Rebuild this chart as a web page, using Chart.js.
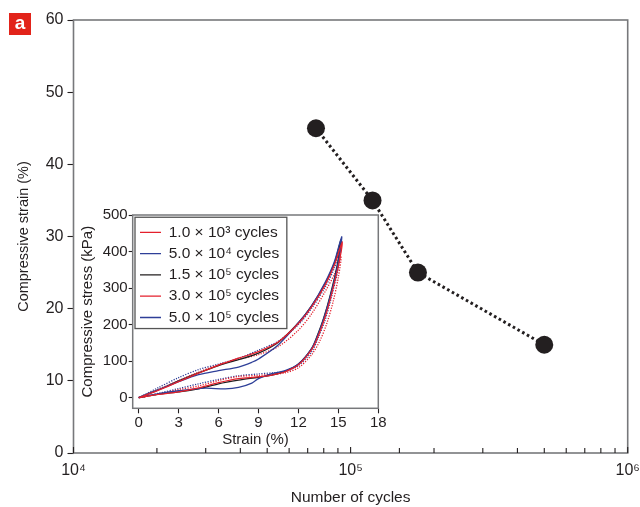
<!DOCTYPE html>
<html>
<head>
<meta charset="utf-8">
<script src="https://cdn.jsdelivr.net/npm/chart.js@4.4.1/dist/chart.umd.min.js"></script>
<style>
  html, body { margin: 0; padding: 0; background: #fff; }
  #wrap { position: relative; width: 640px; height: 507px; overflow: hidden; }
  #main { position: absolute; left: 0; top: 0; }
  #inset { position: absolute; left: 78px; top: 200px; }
  #tag { position: absolute; left: 9px; top: 13px; width: 22px; height: 22px; background: #e2231a;
         color: #fff; font: bold 19px 'Liberation Sans', Arial, sans-serif; text-align: center; line-height: 20px; }
</style>
</head>
<body>
<div id="wrap">
  <canvas id="main" width="640" height="507"></canvas>
  <canvas id="inset" width="312" height="255"></canvas>
  <div id="tag">a</div>
</div>
<script>
// main panel: strain vs number of cycles
var cycles = [7.5e4, 1.2e5, 1.75e5, 5e5];
var strainPct = [45, 35, 25, 15];
var strainTicks = [0, 10, 20, 30, 40, 50, 60];

// inset: stress-strain loops (loading branch then unloading branch)
var insetStrainTicks = [0, 3, 6, 9, 12, 15, 18];
var insetStressTicks = [0, 100, 200, 300, 400, 500];
var loopLabels = ['1.0 \u00d7 10\u00b3 cycles', '5.0 \u00d7 10\u2074 cycles', '1.5 \u00d7 10\u2075 cycles',
                  '3.0 \u00d7 10\u2075 cycles', '5.0 \u00d7 10\u2075 cycles'];

var loop1Strain = [0, 1.5, 3, 4.5, 6, 7.5, 9, 10.5, 12, 13, 14, 14.7, 15.3, 15.0, 14.5, 14.0, 13.5, 13.0, 12.0, 11.0, 10.0, 9.0, 7.5, 6.0, 4.5, 3.0, 1.5, 0];
var loop1Stress = [0, 21, 44, 67, 89, 108, 126, 153, 203, 249, 308, 363, 427, 360, 285, 220, 170, 132, 90, 71, 62, 57, 52, 41, 27, 16, 9, 0];

var loop2Strain = [0, 1.5, 3, 4.5, 6, 7.5, 8.5, 9, 10.5, 12, 13, 14, 14.7, 15.25, 15.0, 14.5, 14.0, 13.5, 13.0, 12.0, 11.0, 10.0, 9.0, 8.5, 7.5, 6.5, 5.0, 3.0, 1.5, 0];
var loop2Stress = [0, 22, 44, 63, 74, 84, 97, 106, 145, 205, 252, 315, 372, 441, 372, 292, 228, 175, 135, 92, 74, 66, 52, 40, 28, 24, 26, 19, 11, 0];

var loop3Strain = [0, 1.5, 3, 4.5, 6, 7.5, 9, 10.5, 12, 13, 14, 14.7, 15.2, 14.9, 14.4, 13.9, 13.4, 13.0, 12.0, 11.0, 10.0, 9.0, 7.5, 6.0, 4.5, 3.0, 1.5, 0];
var loop3Stress = [0, 22, 46, 68, 88, 104, 122, 152, 205, 252, 312, 368, 432, 360, 282, 218, 168, 135, 92, 72, 62, 56, 48, 38, 24, 16, 10, 0];

var loop4Strain = [0, 1.5, 3, 4.5, 6, 7.5, 9, 10.5, 12, 13, 14, 14.7, 15.2, 15.0, 14.6, 14.1, 13.6, 13.0, 12.0, 11.0, 10.0, 9.0, 7.5, 6.0, 4.5, 3.0, 1.5, 0];
var loop4Stress = [0, 23, 47, 70, 90, 105, 118, 140, 185, 230, 290, 338, 385, 330, 262, 200, 155, 118, 82, 68, 64, 61, 58, 47, 32, 22, 10, 0];

var loop5Strain = [0, 1.5, 3, 4.5, 6, 7.5, 9, 10.5, 12, 13, 14, 14.7, 15.2, 15.0, 14.5, 14.0, 13.5, 13.0, 12.0, 11.0, 10.0, 9.0, 7.5, 6.0, 4.5, 3.0, 1.5, 0];
var loop5Stress = [0, 28, 55, 77, 92, 108, 130, 155, 200, 245, 302, 355, 415, 355, 278, 212, 165, 126, 88, 72, 68, 65, 60, 50, 38, 25, 12, 0];

var RED = '#e4202c', BLUE = '#2e3f98', INK = '#231f20', AXIS = '#77787b';
var FONT = "'Liberation Sans', Arial, sans-serif";

Chart.defaults.font.family = FONT;
Chart.defaults.color = INK;

function pts(xs, ys) {
    var out = [];
    for (var i = 0; i < xs.length; i++) out.push({ x: xs[i], y: ys[i] });
    return out;
}

var SUP = '\u2070\u00b9\u00b2\u00b3\u2074\u2075\u2076\u2077\u2078\u2079';
function isDecade(v) {
    var l = Math.log10(v);
    return Math.abs(l - Math.round(l)) < 1e-9;
}
function decadeLabel(v) {
    if (!isDecade(v)) return '';
    var e = String(Math.round(Math.log10(v))), s = '';
    for (var i = 0; i < e.length; i++) s += SUP[+e[i]];
    return '10' + s;
}

// frame round the plot area, and inward ticks on the log axis
var mainFrame = {
    id: 'mainFrame',
    afterDraw: function(chart) {
        var ctx = chart.ctx, a = chart.chartArea, xs = chart.scales.x;
        ctx.save();
        ctx.strokeStyle = AXIS;
        ctx.lineWidth = 1.6;
        ctx.strokeRect(a.left, a.top, a.right - a.left, a.bottom - a.top);
        ctx.strokeStyle = INK;
        ctx.lineWidth = 1.1;
        ctx.beginPath();
        xs.ticks.forEach(function(t) {
            var px = xs.getPixelForValue(t.value);
            var len = isDecade(t.value) ? 6 : 5;
            ctx.moveTo(px, a.bottom);
            ctx.lineTo(px, a.bottom - len);
        });
        ctx.stroke();
        ctx.restore();
    }
};

var mainChart = new Chart(document.getElementById('main').getContext('2d'), {
    type: 'scatter',
    data: {
        datasets: [{
            data: pts(cycles, strainPct),
            showLine: true,
            borderColor: INK,
            borderWidth: 3,
            borderDash: [2.6, 2.8],
            pointRadius: 9,
            pointBackgroundColor: INK,
            pointBorderColor: INK,
            pointBorderWidth: 0
        }]
    },
    options: {
        responsive: false,
        animation: false,
        devicePixelRatio: 1,
        layout: { padding: { left: 0, right: 12.3, top: 20, bottom: 0 } },
        plugins: { legend: { display: false }, tooltip: { enabled: false } },
        scales: {
            x: {
                type: 'logarithmic',
                min: 1e4,
                max: 1e6,
                afterFit: function(s) { s.height = 54; s.paddingLeft = 0; s.paddingRight = 0; },
                grid: { display: false, drawTicks: false },
                border: { display: false },
                ticks: {
                    autoSkip: false,
                    maxRotation: 0,
                    padding: 8,
                    font: { size: 16 },
                    color: INK,
                    callback: function(v) { return decadeLabel(v); }
                },
                title: { display: true, text: 'Number of cycles', font: { size: 15.5 }, color: INK, padding: { top: 0, bottom: 0 } }
            },
            y: {
                min: 0,
                max: 60,
                afterFit: function(s) { s.width = 73.5; },
                afterBuildTicks: function(s) { s.ticks = strainTicks.map(function(v) { return { value: v }; }); },
                grid: { drawOnChartArea: false, color: INK, tickLength: 6, tickWidth: 1.1 },
                border: { display: false },
                ticks: { padding: 4, font: { size: 16 }, color: INK },
                title: { display: true, text: 'Compressive strain (%)', font: { size: 14.5 }, color: INK, padding: { top: 15, bottom: 0 } }
            }
        }
    },
    plugins: [mainFrame]
});

// inset frame; legend moved into the top-left corner of the plot area with a box round it
var insetFrame = {
    id: 'insetFrame',
    afterLayout: function(chart) {
        var lg = chart.legend, a = chart.chartArea;
        lg.left = a.left + 1.5;
        lg.top = a.top + 3.75;
        lg.bottom = lg.top + lg.height;
    },
    afterDraw: function(chart) {
        var ctx = chart.ctx, a = chart.chartArea, lg = chart.legend;
        var pad = lg.options.labels.padding;
        var n = lg.legendItems.length;
        var itemH = lg.options.labels.font.size;
        ctx.save();
        ctx.strokeStyle = AXIS;
        ctx.lineWidth = 1.5;
        ctx.strokeRect(a.left, a.top, a.right - a.left, a.bottom - a.top);
        ctx.strokeStyle = '#555';
        ctx.lineWidth = 1.3;
        ctx.strokeRect(lg.left + 0.8, lg.top - 1.5, lg.columnSizes[0].width + 2 * pad + 1, n * (itemH + pad) + pad - 1);
        ctx.restore();
    }
};

function loopSet(label, xs, ys, color, dotted) {
    return {
        label: label,
        data: pts(xs, ys),
        showLine: true,
        borderColor: color,
        backgroundColor: color,
        borderWidth: 1.3,
        borderDash: dotted ? [1.2, 1.4] : [],
        pointRadius: 0,
        tension: 0.3
    };
}

var insetChart = new Chart(document.getElementById('inset').getContext('2d'), {
    type: 'scatter',
    data: {
        datasets: [
            loopSet(loopLabels[0], loop1Strain, loop1Stress, RED, false),
            loopSet(loopLabels[1], loop2Strain, loop2Stress, BLUE, false),
            loopSet(loopLabels[2], loop3Strain, loop3Stress, INK, false),
            loopSet(loopLabels[3], loop4Strain, loop4Stress, RED, true),
            loopSet(loopLabels[4], loop5Strain, loop5Stress, BLUE, true)
        ]
    },
    options: {
        responsive: false,
        animation: false,
        devicePixelRatio: 1,
        layout: { padding: { left: 0, right: 11.7, top: 15, bottom: 0 } },
        plugins: {
            tooltip: { enabled: false },
            legend: {
                position: 'chartArea',
                align: 'start',
                labels: {
                    usePointStyle: true,
                    pointStyle: 'line',
                    pointStyleWidth: 21,
                    padding: 5.8,
                    color: INK,
                    font: { size: 15.5 }
                }
            }
        },
        scales: {
            x: {
                min: -0.45,
                max: 18,
                afterFit: function(s) { s.height = 46.7; },
                afterBuildTicks: function(s) { s.ticks = insetStrainTicks.map(function(v) { return { value: v }; }); },
                grid: { drawOnChartArea: false, color: INK, tickLength: 5, tickWidth: 1.1 },
                border: { display: false },
                ticks: { padding: 1, font: { size: 15 }, color: INK, maxRotation: 0 },
                title: { display: true, text: 'Strain (%)', font: { size: 15 }, color: INK, padding: { top: 0, bottom: 6 } }
            },
            y: {
                min: -29,
                max: 500,
                afterFit: function(s) { s.width = 54.7; },
                afterBuildTicks: function(s) { s.ticks = insetStressTicks.map(function(v) { return { value: v }; }); },
                grid: { drawOnChartArea: false, color: INK, tickLength: 4, tickWidth: 1.1 },
                border: { display: false },
                ticks: { padding: 1, font: { size: 15 }, color: INK },
                title: { display: true, text: 'Compressive stress (kPa)', font: { size: 15 }, color: INK, padding: { top: 1, bottom: 0 } }
            }
        }
    },
    plugins: [insetFrame]
});
</script>
</body>
</html>
